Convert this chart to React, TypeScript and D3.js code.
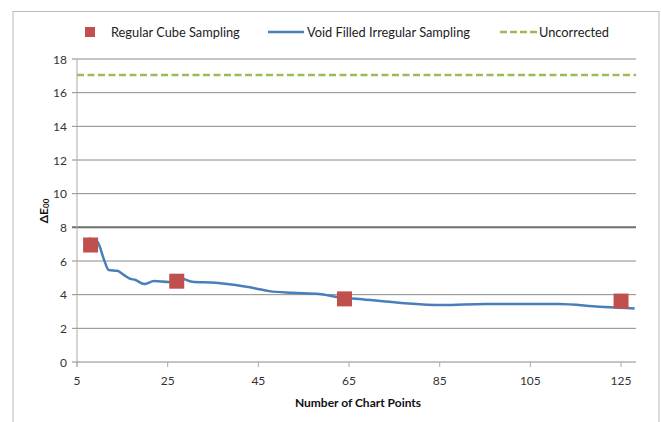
import * as d3 from "d3";

// chart values
const cubeX = [8, 27, 64, 125];
const cubeY = [6.95, 4.8, 3.75, 3.62];

const voidX = [7.6, 9.5, 11, 12, 13.9, 15.4, 16.5, 17.9, 19.8, 22, 25.3, 27.9, 30.4, 35.6, 40, 44.4, 47.4, 52.5, 58.4, 62.8, 67.2, 76, 85.6, 95.2, 111.3, 120.2, 128];
const voidY = [7.34, 7.14, 6.05, 5.46, 5.42, 5.16, 4.97, 4.87, 4.63, 4.81, 4.75, 4.97, 4.77, 4.71, 4.57, 4.37, 4.21, 4.11, 4.04, 3.84, 3.74, 3.52, 3.38, 3.44, 3.44, 3.28, 3.18];

const uncorrected = 17.05;

const xTicks = [5, 25, 45, 65, 85, 105, 125];
const yTicks = [0, 2, 4, 6, 8, 10, 12, 14, 16, 18];

const legendItems = ["Regular Cube Sampling", "Void Filled Irregular Sampling", "Uncorrected"];

export default function App() {
  const width = 661,
    height = 422,
    left = 77,
    right = 636,
    top = 59,
    bottom = 362,
    tickLen = 5;
  const font = "Lato, 'Open Sans', sans-serif";

  const xScale = d3.scaleLinear().domain([5, 128.3]).range([left, right]);
  const yScale = d3.scaleLinear().domain([0, 18]).range([bottom, top]);

  const line = d3
    .line<number>()
    .x((d, i) => xScale(voidX[i]))
    .y((d) => yScale(d))
    .curve(d3.curveMonotoneX);

  return (
    <svg
      width={width}
      height={height}
      style={{ position: "absolute", left: 0, top: 0 }}
      fontFamily={font}
    >
      <rect x={0} y={0} width={width} height={height} fill="white" />
      <rect x={13} y={11.5} width={646} height={430} fill="none" stroke="#b9b9b9" />

      {/* grid */}
      {yTicks.map((t) => (
        <g key={t}>
          {t > 0 && (
            <line
              x1={left - tickLen}
              x2={right}
              y1={yScale(t)}
              y2={yScale(t)}
              stroke={t === 8 ? "#6e6e6e" : "#8a8a8a"}
              strokeWidth={t === 8 ? 2 : 1}
            />
          )}
          <text
            x={left - 10}
            y={yScale(t)}
            textAnchor="end"
            dominantBaseline="central"
            fontSize={12}
            fill="#333"
          >
            {t}
          </text>
        </g>
      ))}

      {/* axes */}
      <line x1={left} x2={left} y1={top} y2={bottom + tickLen} stroke="#aaa" />
      <line x1={left - tickLen} x2={right} y1={bottom} y2={bottom} stroke="#8a8a8a" />
      {xTicks.map((t) => (
        <g key={t}>
          <line x1={xScale(t)} x2={xScale(t)} y1={bottom} y2={bottom + tickLen} stroke="#aaa" />
          <text
            x={xScale(t)}
            y={bottom + 18}
            textAnchor="middle"
            dominantBaseline="central"
            fontSize={12}
            fill="#333"
          >
            {t}
          </text>
        </g>
      ))}

      {/* series */}
      <line
        x1={left}
        x2={right}
        y1={yScale(uncorrected)}
        y2={yScale(uncorrected)}
        stroke="#9bbb59"
        strokeWidth={2.5}
        strokeDasharray="7 3.5"
      />
      <path d={line(voidY) || ""} fill="none" stroke="#4a7ebb" strokeWidth={2.5} />
      {cubeY.map((v, i) => (
        <rect
          key={i}
          x={xScale(cubeX[i]) - 7.5}
          y={yScale(v) - 7.5}
          width={15}
          height={15}
          fill="#c0504d"
        />
      ))}

      {/* axis titles */}
      <text
        x={358}
        y={402}
        textAnchor="middle"
        dominantBaseline="central"
        fontSize={12}
        fontWeight="bold"
        fill="#111"
      >
        Number of Chart Points
      </text>
      <text
        transform={`translate(43 ${211}) rotate(-90)`}
        textAnchor="middle"
        dominantBaseline="central"
        fontSize={12}
        fontWeight="bold"
        fill="#111"
      >
        ΔE<tspan fontSize={8} dy={3}>00</tspan>
      </text>

      {/* legend */}
      <g fontSize={12.8} fill="#222">
        <rect x={85} y={27} width={10} height={10} fill="#c0504d" />
        <text x={111} y={32} dominantBaseline="central">
          {legendItems[0]}
        </text>
        <line x1={268} x2={304} y1={32} y2={32} stroke="#4a7ebb" strokeWidth={2.5} />
        <text x={307} y={32} dominantBaseline="central">
          {legendItems[1]}
        </text>
        <line x1={500} x2={537} y1={32} y2={32} stroke="#9bbb59" strokeWidth={2.5} strokeDasharray="7 3" />
        <text x={539} y={32} dominantBaseline="central">
          {legendItems[2]}
        </text>
      </g>
    </svg>
  );
}
